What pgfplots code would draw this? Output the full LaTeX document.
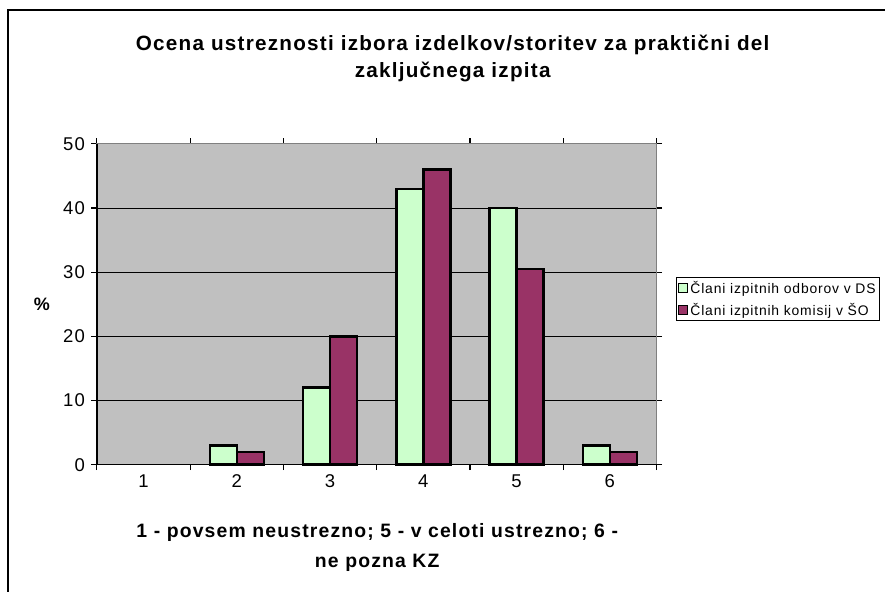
\documentclass[border=0pt]{standalone}
\usepackage{pgfplots}
\pgfplotsset{compat=1.18}
\usepackage{fontspec}
\setmainfont{Liberation Sans}[LetterSpace=6]
\definecolor{cgreen}{HTML}{CCFFCC}
\definecolor{cmaroon}{HTML}{993366}
\definecolor{cgray}{HTML}{C0C0C0}
\begin{document}
\begin{tikzpicture}
\begin{axis}[
  scale only axis, width=560pt, height=321pt,
  clip=false,
  xmin=0.5, xmax=6.5, ymin=0, ymax=50,
  ytick={0,10,...,50},
  xtick={0.5,1.5,...,6.5},
  x tick label as interval,
  xticklabels={1,2,3,4,5,6},
  tick align=outside,
  major tick length=5.5pt,
  tick style={black, line width=1.1pt},
  ymajorgrids, grid style={black, line width=0.9pt},
  axis background/.style={fill=cgray},
  axis line style={draw=gray, line width=1pt},
  ticklabel style={font=\fontsize{18.5}{20}\selectfont},
  /pgf/number format/assume math mode=true,
  xticklabel style={yshift=-1pt},
  yticklabel style={xshift=-3pt},
  ybar=0pt, bar width=0.29,
  legend style={at={(1.034,0.586)}, anchor=north west, draw=black, line width=0.9pt,
    font=\fontsize{13.9}{16}\selectfont, row sep=4.5pt, inner sep=2pt, overlay,
    /tikz/every even column/.append style={column sep=0pt}},
  legend cell align=left,
  legend image code/.code={\draw[#1, line width=1.5pt] (0pt,-4.5pt) rectangle (9pt,4.5pt);},
]
\addplot[fill=cgreen, draw=black, line width=2.4pt] coordinates {(2,3) (3,12) (4,43) (5,40) (6,3)};
\addplot[fill=cmaroon, draw=black, line width=2.4pt] coordinates {(2,2) (3,20) (4,46) (5,30.5) (6,2)};
\draw[black, line width=1.4pt] (axis cs:0.5,50) -- (axis cs:0.5,0) -- (axis cs:6.5,0);
\legend{Člani izpitnih odborov v DS, Člani izpitnih komisij v ŠO}
% page frame
\path (rel axis cs:-0.17321,-0.39564) rectangle (rel axis cs:1.40893,1.44860);
\draw[line width=1.3pt] (rel axis cs:-0.1589,-0.39564) -- (rel axis cs:-0.1589,1.4174) -- (rel axis cs:1.40893,1.4174);
\node[align=center,font=\bfseries\fontsize{20.7}{27}\selectfont] at (rel axis cs:0.6357,1.2664)
  {Ocena ustreznosti izbora izdelkov/storitev za praktični del\\zaključnega izpita};
\node[font=\bfseries\fontsize{18}{20}\selectfont] at (rel axis cs:-0.0982,0.4984) {\%};
\node[align=center,font=\bfseries\fontsize{19.4}{30}\selectfont] at (rel axis cs:0.5009,-0.2570)
  {1 - povsem neustrezno; 5 - v celoti ustrezno; 6 -\\ne pozna KZ};
\end{axis}
\end{tikzpicture}
\end{document}
